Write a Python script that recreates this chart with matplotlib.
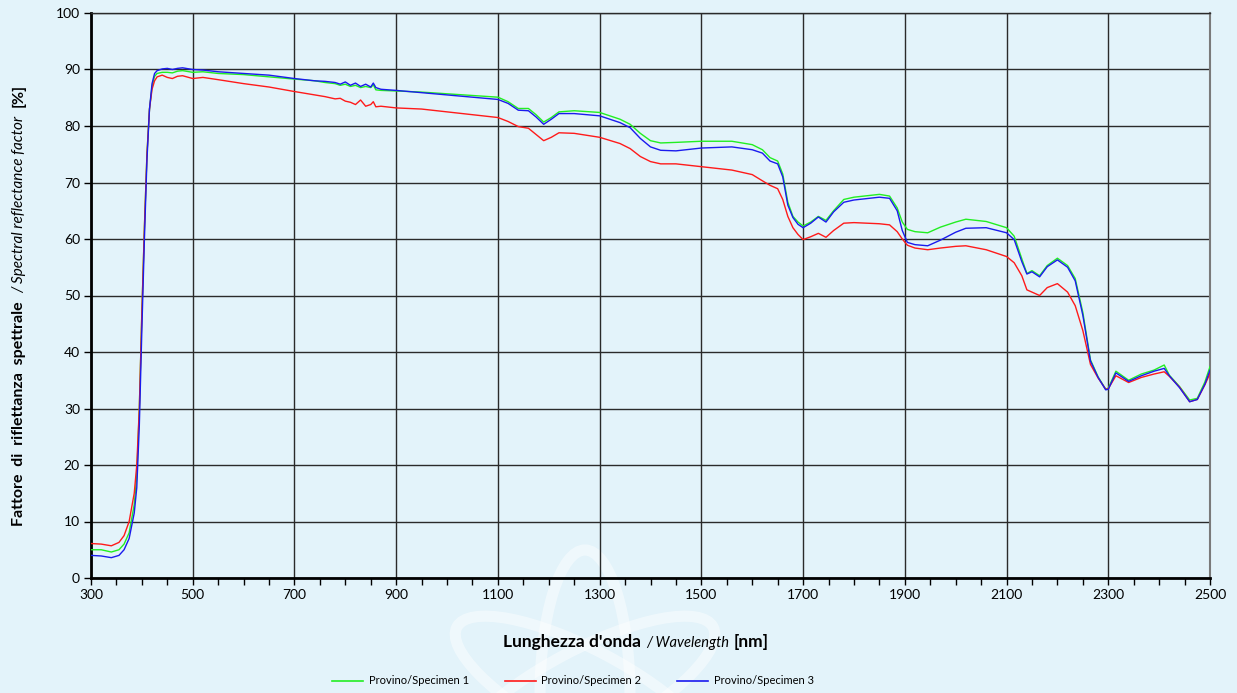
import numpy as np
import matplotlib
matplotlib.use('Agg')
import matplotlib.pyplot as plt
from matplotlib.transforms import IdentityTransform
from matplotlib.patches import Ellipse
from matplotlib.lines import Line2D

# ---------------- data ----------------
wavelength = [300, 320, 340, 355, 365, 375, 385, 390, 395, 400,
              405, 410, 415, 420, 425, 430, 440, 450, 460, 470,
              480, 500, 520, 550, 600, 650, 700, 740, 760, 780,
              790, 800, 810, 820, 830, 840, 850, 855, 860, 870,
              900, 950, 1000, 1050, 1100, 1120, 1140, 1160, 1175, 1190,
              1205, 1220, 1250, 1300, 1340, 1360, 1380, 1400, 1420, 1450,
              1500, 1560, 1600, 1620, 1635, 1650, 1660, 1670, 1680, 1690,
              1700, 1715, 1730, 1745, 1760, 1780, 1800, 1850, 1870, 1885,
              1895, 1905, 1920, 1945, 1970, 2000, 2020, 2060, 2100, 2115,
              2130, 2140, 2150, 2165, 2180, 2200, 2220, 2235, 2250, 2265,
              2280, 2295, 2300, 2315, 2340, 2365, 2390, 2410, 2420, 2440,
              2460, 2475, 2490, 2500]

specimen1 = [5.0, 5.0, 4.6, 5.0, 6.0, 8.0, 13.0, 18.0, 30.0, 47.0,
             62.0, 75.0, 83.0, 87.0, 88.8, 89.3, 89.5, 89.5, 89.4, 89.7,
             89.8, 89.5, 89.6, 89.3, 89.1, 88.7, 88.3, 88.0, 87.7, 87.5,
             87.2, 87.4, 87.0, 87.2, 86.8, 87.0, 86.8, 87.3, 86.4, 86.3,
             86.2, 86.0, 85.7, 85.4, 85.1, 84.3, 83.1, 83.1, 82.0, 80.7,
             81.5, 82.5, 82.7, 82.4, 81.2, 80.3, 78.7, 77.4, 77.0, 77.1,
             77.3, 77.3, 76.7, 75.8, 74.4, 73.8, 71.5, 66.5, 64.0, 63.0,
             62.3, 63.0, 64.0, 63.3, 65.0, 67.0, 67.4, 67.9, 67.6, 65.5,
             63.0, 61.7, 61.3, 61.1, 62.1, 63.0, 63.5, 63.1, 62.0, 60.5,
             56.5, 53.9, 54.4, 53.5, 55.3, 56.6, 55.3, 53.0, 47.0, 38.6,
             35.6, 33.4, 33.6, 36.6, 35.0, 36.1, 36.8, 37.7, 35.9, 33.9,
             31.5, 31.8, 34.7, 37.4]

specimen2 = [6.1, 6.0, 5.7, 6.3, 7.5, 10.0, 15.0, 20.0, 30.0, 47.0,
             62.0, 75.0, 83.0, 86.5, 88.0, 88.7, 89.0, 88.6, 88.4, 88.8,
             88.9, 88.4, 88.6, 88.2, 87.5, 86.9, 86.1, 85.5, 85.2, 84.8,
             84.9, 84.4, 84.2, 83.8, 84.6, 83.5, 83.8, 84.3, 83.4, 83.5,
             83.2, 83.0, 82.5, 82.0, 81.5, 80.8, 79.9, 79.6, 78.5, 77.4,
             78.0, 78.8, 78.7, 78.0, 76.9, 76.0, 74.6, 73.7, 73.3, 73.3,
             72.8, 72.2, 71.4, 70.3, 69.5, 68.9, 67.0, 64.0, 62.0, 60.8,
             59.9, 60.4, 61.0, 60.3, 61.5, 62.8, 62.9, 62.7, 62.5, 61.3,
             60.0, 58.9, 58.4, 58.1, 58.4, 58.7, 58.8, 58.1, 56.9, 55.8,
             53.5, 51.0, 50.6, 50.0, 51.4, 52.1, 50.6, 48.2, 43.8, 37.8,
             35.4, 33.4, 33.5, 35.8, 34.6, 35.5, 36.1, 36.5, 35.7, 33.8,
             31.2, 31.6, 34.2, 36.2]

specimen3 = [4.0, 3.9, 3.6, 4.0, 5.0, 7.0, 11.5, 16.0, 27.0, 44.0,
             60.0, 74.0, 83.0, 87.5, 89.3, 89.8, 90.1, 90.2, 90.0, 90.2,
             90.3, 90.0, 89.9, 89.6, 89.3, 89.0, 88.4, 88.0, 87.9, 87.7,
             87.4, 87.8, 87.2, 87.6, 87.0, 87.4, 86.9, 87.6, 86.8, 86.5,
             86.3, 85.9, 85.5, 85.1, 84.7, 84.0, 82.8, 82.7, 81.6, 80.3,
             81.2, 82.2, 82.2, 81.8, 80.6, 79.7, 77.8, 76.3, 75.7, 75.6,
             76.1, 76.3, 75.8, 75.2, 73.8, 73.3, 71.0, 66.0, 63.8, 62.6,
             62.0, 62.8, 63.9, 63.0, 64.8, 66.5, 66.9, 67.4, 67.2, 65.0,
             61.5, 59.4, 59.0, 58.8, 59.8, 61.2, 61.9, 62.0, 61.1, 59.9,
             56.0, 53.8, 54.2, 53.3, 55.1, 56.3, 55.0, 52.6, 46.5, 38.4,
             35.5, 33.3, 33.4, 36.3, 34.8, 35.8, 36.6, 37.1, 35.8, 33.7,
             31.2, 31.6, 34.3, 36.8]

series = [specimen1, specimen2, specimen3]
series_labels = ["Provino/Specimen 1", "Provino/Specimen 2", "Provino/Specimen 3"]
series_colors = ["#22ee22", "#ff1a1a", "#1a1aee"]
x_ticks = list(range(300, 2501, 200))
x_minor_ticks = list(range(300, 2501, 50))
y_ticks = list(range(0, 101, 10))

for s in series:
    assert len(s) == len(wavelength)

# ---------------- figure ----------------
BG = '#e3f3fa'
plt.rcParams['font.family'] = ['Lato', 'DejaVu Sans']

W, H = 1237, 693
fig = plt.figure(figsize=(W / 100, H / 100), dpi=100, facecolor=BG)

# faint watermark logo in the background
bg_ax = fig.add_axes([0, 0, 1, 1], zorder=-5)
bg_ax.set_xlim(0, W)
bg_ax.set_ylim(H, 0)
bg_ax.axis('off')
for ang in (90, 28, 152):
    bg_ax.add_patch(Ellipse((585, 695), 290, 90, angle=ang, fill=False,
                            ec='white', lw=8, alpha=0.45))

ax = fig.add_axes([91 / W, 1 - 578 / H, (1210 - 91) / W, (578 - 13) / H], zorder=1)
ax.set_facecolor('none')

for vals, lab, col in zip(series, series_labels, series_colors):
    ax.plot(wavelength, vals, color=col, lw=1.0, label=lab, zorder=3)

ax.set_xlim(300, 2500)
ax.set_ylim(0, 100)
ax.set_xticks(x_ticks)
ax.set_xticks(x_minor_ticks, minor=True)
ax.set_yticks(y_ticks)
ax.tick_params(axis='both', which='both', direction='out', length=5, width=1,
               colors='black', labelsize=10, pad=3)
ax.grid(True, which='major', color='#2a2a2a', lw=1.0, zorder=1)
for side in ('left', 'bottom'):
    ax.spines[side].set_linewidth(2.0)
    ax.spines[side].set_color('black')
ax.spines['top'].set_linewidth(1.0)
ax.spines['top'].set_color('#2a2a2a')
ax.spines['right'].set_linewidth(1.5)
ax.spines['right'].set_color('#7a7a7a')

# ---------------- mixed-style axis labels ----------------
fig.canvas.draw()
renderer = fig.canvas.get_renderer()


def mixed_label(pieces, cx, cy, vertical=False, gap=4):
    widths = []
    for s, kw in pieces:
        t = fig.text(0, 0, s, transform=IdentityTransform(), **kw)
        widths.append(t.get_window_extent(renderer).width)
        t.remove()
    total = sum(widths) + gap * (len(pieces) - 1)
    pos = -total / 2
    for (s, kw), w in zip(pieces, widths):
        if vertical:
            fig.text(cx, cy + pos, s, rotation=90, rotation_mode='anchor',
                     ha='left', va='baseline', transform=IdentityTransform(), **kw)
        else:
            fig.text(cx + pos, cy, s, ha='left', va='baseline',
                     transform=IdentityTransform(), **kw)
        pos += w + gap


bold_x = dict(fontsize=12.5, fontweight='bold', color='black')
ital_x = dict(fontsize=10.5, fontstyle='italic', color='black')
bold_y = dict(fontsize=11.5, fontweight='bold', color='black')
ital_y = dict(fontsize=11, fontstyle='italic', color='black')

mixed_label([("Lunghezza d'onda", bold_x), ("/ Wavelength", ital_x), ("[nm]", bold_x)],
            636, H - 647, gap=5)
mixed_label([("Fattore  di  riflettanza  spettrale", bold_y),
             ("/ Spectral reflectance factor", ital_y), ("[%]", bold_y)],
            23, H - 305, vertical=True, gap=9)

handles = [Line2D([], [], color=c, lw=1.2) for c in series_colors]
fig.legend(handles, series_labels, loc='center', bbox_to_anchor=(573 / W, 1 - 681 / H),
           ncol=3, frameon=False, fontsize=8, handlelength=2.8, handletextpad=0.5,
           columnspacing=3.2)

fig.savefig('out.png', dpi=100, facecolor=BG)
